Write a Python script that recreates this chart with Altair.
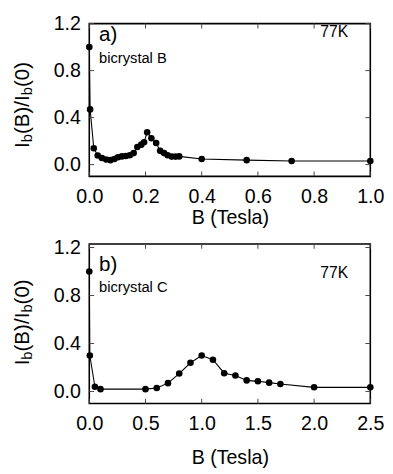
import altair as alt
import pandas as pd

# Panel a) bicrystal B, 77K
B_a = [0.0, 0.003, 0.016, 0.03, 0.045, 0.06, 0.075, 0.089, 0.102, 0.116, 0.13, 0.144,
       0.158, 0.171, 0.185, 0.195, 0.206, 0.221, 0.238, 0.252, 0.266, 0.279, 0.293,
       0.307, 0.32, 0.4, 0.56, 0.72, 1.0]
I_a = [1.0, 0.47, 0.14, 0.078, 0.057, 0.043, 0.038, 0.048, 0.062, 0.07, 0.073, 0.08,
       0.098, 0.15, 0.17, 0.19, 0.275, 0.225, 0.184, 0.117, 0.098, 0.079, 0.068,
       0.068, 0.07, 0.048, 0.038, 0.03, 0.03]

# Panel b) bicrystal C, 77K
B_b = [0.0, 0.005, 0.05, 0.1, 0.5, 0.6, 0.7, 0.8, 0.9, 1.0, 1.1, 1.2, 1.3, 1.4, 1.5,
       1.6, 1.7, 2.0, 2.5]
I_b = [1.0, 0.3, 0.04, 0.02, 0.02, 0.03, 0.07, 0.15, 0.24, 0.30, 0.265, 0.153, 0.133,
       0.093, 0.085, 0.074, 0.063, 0.035, 0.035]

xticks_a = [0.0, 0.2, 0.4, 0.6, 0.8, 1.0]
xticks_b = [0.0, 0.5, 1.0, 1.5, 2.0, 2.5]
yticks = [0.0, 0.4, 0.8, 1.2]

FONT = "Liberation Sans"
FS = 20
W = 287


def text_layer(txt, x, y, size, angle=0, baseline="middle"):
    return alt.Chart(alt.Data(values=[{}])).mark_text(
        text=txt, font=FONT, fontSize=size, color="black", align="left",
        baseline=baseline, angle=angle
    ).encode(x=alt.value(x), y=alt.value(y))


def ytitle(bottom):
    # I_b(B)/I_b(0) rotated, built from pieces for subscripts
    segs = [("I", 21, 0, 0.278), ("b", 15, 4, 0.556), ("(B)/I", 21, 0, 1.889),
            ("b", 15, 4, 0.556), ("(0)", 21, 0, 1.222)]
    layers = []
    y = bottom
    for t, s, dx, em in segs:
        layers.append(text_layer(t, -62 + dx, y, s, angle=270, baseline="alphabetic"))
        y -= em * s
    return layers


def inward_ticks(xticks, H):
    tx = pd.DataFrame({"B": xticks})
    ty = pd.DataFrame({"I": yticks})
    style = dict(color="#444", thickness=1, size=5, opacity=1)
    return [
        alt.Chart(tx).mark_tick(orient="vertical", **style).encode(x="B:Q", y=alt.value(2.5)),
        alt.Chart(tx).mark_tick(orient="vertical", **style).encode(x="B:Q", y=alt.value(H - 2.5)),
        alt.Chart(ty).mark_tick(orient="horizontal", **style).encode(y="I:Q", x=alt.value(2.5)),
        alt.Chart(ty).mark_tick(orient="horizontal", **style).encode(y="I:Q", x=alt.value(W - 2.5)),
    ]


def panel(B, I, xticks, xdom, ydom, H, label, sample, k_y, lab_y, samp_y, tb, tpad):
    df = pd.DataFrame({"B": B, "I": I})
    x = alt.X("B:Q", scale=alt.Scale(domain=xdom, nice=False, zero=False),
              axis=alt.Axis(values=xticks, format=".1f", title="B (Tesla)",
                            titlePadding=tpad, labelFlush=False, labelPadding=11))
    y = alt.Y("I:Q", scale=alt.Scale(domain=ydom, nice=False, zero=False),
              axis=alt.Axis(values=yticks, format=".1f", title=None, labelFlush=False))
    base = alt.Chart(df).encode(x=x, y=y)
    line = base.mark_line(color="black", strokeWidth=1.1, clip=True)
    pts = base.mark_point(filled=True, color="black", size=45, opacity=1, clip=False)
    layers = [line, pts] + inward_ticks(xticks, H) + [
              text_layer(label, 10, lab_y, 21),
              text_layer(sample, 10, samp_y, 15),
              text_layer("77K", 236, k_y, 16)]
    layers += ytitle(tb)
    return alt.layer(*layers).properties(width=W, height=H)


pa = panel(B_a, I_a, xticks_a, [0, 1.0], [-0.1, 1.2], 156, "a)", "bicrystal B",
           9, 12, 35, 127, 1)
pb = panel(B_b, I_b, xticks_b, [0, 2.5], [-0.1, 1.23], 163, "b)", "bicrystal C",
           30, 22, 44, 124, 14)

chart = alt.vconcat(pa, pb, spacing=8).properties(
    padding={"left": 3, "top": 0, "right": 0, "bottom": 0}
).configure_view(stroke="black", strokeWidth=1.6).configure_axis(
    grid=False, domain=False, ticks=False, labelPadding=9,
    labelFont=FONT, labelFontSize=FS, labelColor="black",
    titleFont=FONT, titleFontSize=FS, titleFontWeight="normal", titleColor="black"
)

chart.save("out.html", embed_options={"renderer": "svg", "actions": False})
